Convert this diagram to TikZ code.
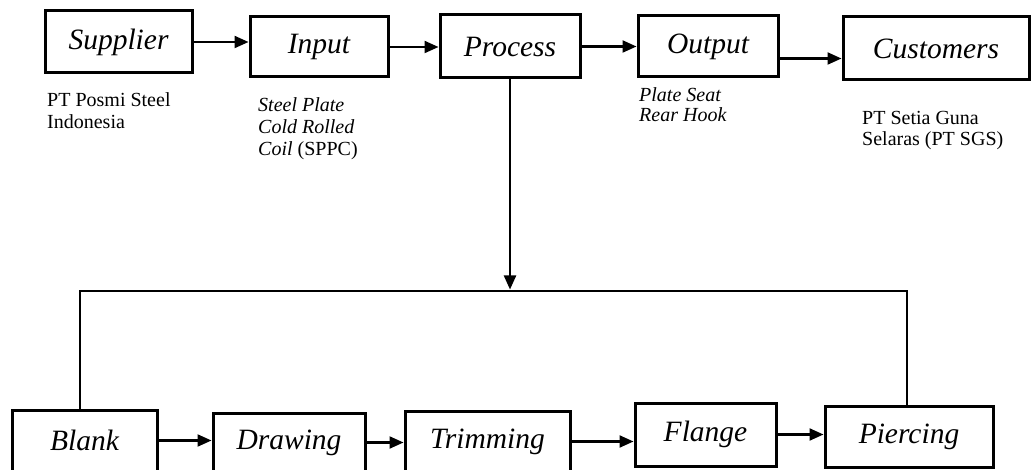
\documentclass[tikz,border=0pt]{standalone}
\usepackage{fontspec}
\setmainfont{Liberation Serif}
\usetikzlibrary{arrows.meta,calc}
\begin{document}
\begin{tikzpicture}[x=1pt,y=-1pt,
 box/.style={draw, line width=3pt, inner sep=0pt, font=\fontsize{29.5}{32}\selectfont\itshape},
 arr/.style={line width=2.2pt, -{Triangle[length=14pt,width=12pt]}},
 bus/.style={line width=2.8pt, line join=miter},
 lab/.style={anchor=north west, align=left, inner sep=0pt, font=\fontsize{20}{22}\selectfont}]
\useasboundingbox[fill=white] (0,0) rectangle (1031,470);
% top row
\node[box, minimum width=147, minimum height=62] (sup) at (118.5,42) {Supplier};
\node[box, minimum width=138, minimum height=60] (inp) at (319,47) {Input};
\node[box, minimum width=140, minimum height=63] (pro) at (510,46.5) {Process};
\node[box, minimum width=140, minimum height=61] (out) at (708,46.5) {Output};
\node[box, minimum width=186, minimum height=63] (cus) at (936,48.5) {Customers};
% labels
\node[lab] (supl) at (47,92) {PT Posmi Steel\\Indonesia};
\node[lab] (inpl) at (258,97) {\itshape Steel Plate\\\itshape Cold Rolled\\\itshape Coil \upshape(SPPC)};
\node[lab, font=\fontsize{20}{20.5}\selectfont\itshape] (outl) at (639,87) {Plate Seat\\Rear Hook};
\node[lab, font=\fontsize{20}{21}\selectfont] (cusl) at (862,111) {PT Setia Guna\\Selaras (PT SGS)};
% bottom row
\node[box, minimum width=145, minimum height=61] (bla) at (84.5,440.5) {Blank};
\node[box, minimum width=152, minimum height=59] (dra) at (289,442.5) {Drawing};
\node[box, minimum width=165, minimum height=61] (tri) at (487.5,441.5) {Trimming};
\node[box, minimum width=141, minimum height=63] (fla) at (705.5,434.5) {Flange};
\node[box, minimum width=168, minimum height=61] (pie) at (909,436.5) {Piercing};
% top arrows
\draw[arr] (sup.east) -- (sup.east -| inp.west);
\draw[arr] (inp.east) -- (inp.east -| pro.west);
\draw[arr] (pro.east) -- (pro.east -| out.west);
\coordinate (oc) at ($(out.east)+(0,12)$);
\draw[arr] (oc) -- (oc -| cus.west);
% bus
\coordinate (busL) at (80,291);
\coordinate (busR) at (907,291);
\coordinate (busM) at ($(pro.south |- busL)+(0,-1.5)$);
\draw[arr] (pro.south) -- (busM);
\draw[bus] (busL |- bla.north) -- (busL) -- (busR) -- (busR |- pie.north);
% bottom arrows
\draw[arr] (bla.east) -- (bla.east -| dra.west);
\draw[arr] (dra.east) -- (dra.east -| tri.west);
\draw[arr] (tri.east) -- (tri.east -| fla.west);
\draw[arr] (fla.east) -- (fla.east -| pie.west);
\end{tikzpicture}
\end{document}
